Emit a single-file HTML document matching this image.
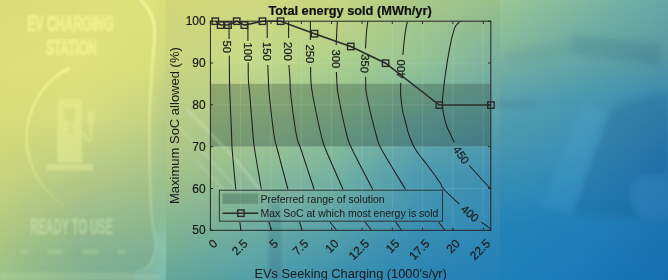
<!DOCTYPE html>
<html><head><meta charset="utf-8"><style>
html,body{margin:0;padding:0;width:668px;height:280px;overflow:hidden;background:#8cbf96}
svg{display:block}
text{font-family:"Liberation Sans",sans-serif}
</style></head><body>
<svg width="668" height="280" viewBox="0 0 668 280">
<defs><linearGradient id="h1" gradientUnits="userSpaceOnUse" x1="0" y1="0" x2="166" y2="0"><stop offset="0.0000" stop-color="#dcdc7c"/><stop offset="0.4819" stop-color="#dde07c"/><stop offset="0.9036" stop-color="#dde47c"/><stop offset="1.0000" stop-color="#d8e07c"/></linearGradient><linearGradient id="h2" gradientUnits="userSpaceOnUse" x1="0" y1="0" x2="166" y2="0"><stop offset="0.0000" stop-color="#dce07a"/><stop offset="0.4819" stop-color="#dde27a"/><stop offset="0.9036" stop-color="#d6de7c"/><stop offset="1.0000" stop-color="#cad680"/></linearGradient><linearGradient id="h3" gradientUnits="userSpaceOnUse" x1="0" y1="0" x2="166" y2="0"><stop offset="0.0000" stop-color="#d6dc78"/><stop offset="0.4819" stop-color="#d4dc80"/><stop offset="0.9036" stop-color="#c4d282"/><stop offset="1.0000" stop-color="#b6ca86"/></linearGradient><linearGradient id="h4" gradientUnits="userSpaceOnUse" x1="0" y1="0" x2="166" y2="0"><stop offset="0.0000" stop-color="#c8d47c"/><stop offset="0.4819" stop-color="#b4c886"/><stop offset="0.9036" stop-color="#a4c28a"/><stop offset="1.0000" stop-color="#9cc08e"/></linearGradient><linearGradient id="h5" gradientUnits="userSpaceOnUse" x1="0" y1="0" x2="166" y2="0"><stop offset="0.0000" stop-color="#a8c484"/><stop offset="0.4819" stop-color="#8ab48e"/><stop offset="0.9036" stop-color="#80b094"/><stop offset="1.0000" stop-color="#80bca4"/></linearGradient><linearGradient id="h6" gradientUnits="userSpaceOnUse" x1="0" y1="0" x2="166" y2="0"><stop offset="0.0000" stop-color="#9cc088"/><stop offset="0.4819" stop-color="#80ae90"/><stop offset="0.9036" stop-color="#78aa98"/><stop offset="1.0000" stop-color="#72b4a8"/></linearGradient><linearGradient id="v8" gradientUnits="userSpaceOnUse" x1="0" y1="0" x2="0" y2="70"><stop offset="0" stop-color="#000"/><stop offset="1" stop-color="#fff"/></linearGradient><mask id="m7" maskUnits="userSpaceOnUse" x="0" y="0" width="166" height="70"><rect x="0" y="0" width="166" height="70" fill="url(#v8)"/></mask><linearGradient id="v10" gradientUnits="userSpaceOnUse" x1="0" y1="70" x2="0" y2="120"><stop offset="0" stop-color="#000"/><stop offset="1" stop-color="#fff"/></linearGradient><mask id="m9" maskUnits="userSpaceOnUse" x="0" y="70" width="166" height="50"><rect x="0" y="70" width="166" height="50" fill="url(#v10)"/></mask><linearGradient id="v12" gradientUnits="userSpaceOnUse" x1="0" y1="120" x2="0" y2="180"><stop offset="0" stop-color="#000"/><stop offset="1" stop-color="#fff"/></linearGradient><mask id="m11" maskUnits="userSpaceOnUse" x="0" y="120" width="166" height="60"><rect x="0" y="120" width="166" height="60" fill="url(#v12)"/></mask><linearGradient id="v14" gradientUnits="userSpaceOnUse" x1="0" y1="180" x2="0" y2="250"><stop offset="0" stop-color="#000"/><stop offset="1" stop-color="#fff"/></linearGradient><mask id="m13" maskUnits="userSpaceOnUse" x="0" y="180" width="166" height="70"><rect x="0" y="180" width="166" height="70" fill="url(#v14)"/></mask><linearGradient id="v16" gradientUnits="userSpaceOnUse" x1="0" y1="250" x2="0" y2="280"><stop offset="0" stop-color="#000"/><stop offset="1" stop-color="#fff"/></linearGradient><mask id="m15" maskUnits="userSpaceOnUse" x="0" y="250" width="166" height="30"><rect x="0" y="250" width="166" height="30" fill="url(#v16)"/></mask></defs><rect x="0" y="0" width="166" height="70" fill="url(#h1)"/><rect x="0" y="0" width="166" height="70" fill="url(#h2)" mask="url(#m7)"/><rect x="0" y="70" width="166" height="50" fill="url(#h2)"/><rect x="0" y="70" width="166" height="50" fill="url(#h3)" mask="url(#m9)"/><rect x="0" y="120" width="166" height="60" fill="url(#h3)"/><rect x="0" y="120" width="166" height="60" fill="url(#h4)" mask="url(#m11)"/><rect x="0" y="180" width="166" height="70" fill="url(#h4)"/><rect x="0" y="180" width="166" height="70" fill="url(#h5)" mask="url(#m13)"/><rect x="0" y="250" width="166" height="30" fill="url(#h5)"/><rect x="0" y="250" width="166" height="30" fill="url(#h6)" mask="url(#m15)"/>
<defs><linearGradient id="h17" gradientUnits="userSpaceOnUse" x1="166" y1="0" x2="500" y2="0"><stop offset="0.0000" stop-color="#d2d878"/><stop offset="0.2515" stop-color="#d0d880"/><stop offset="0.5030" stop-color="#cad680"/><stop offset="0.7515" stop-color="#aac888"/><stop offset="1.0000" stop-color="#98c08c"/></linearGradient><linearGradient id="h18" gradientUnits="userSpaceOnUse" x1="166" y1="0" x2="500" y2="0"><stop offset="0.0000" stop-color="#ccd480"/><stop offset="0.2515" stop-color="#c6da88"/><stop offset="0.5030" stop-color="#aed08c"/><stop offset="0.7515" stop-color="#96c494"/><stop offset="1.0000" stop-color="#7ab0a0"/></linearGradient><linearGradient id="h19" gradientUnits="userSpaceOnUse" x1="166" y1="0" x2="500" y2="0"><stop offset="0.0000" stop-color="#a8c488"/><stop offset="0.2515" stop-color="#92bc94"/><stop offset="0.5030" stop-color="#78b4a0"/><stop offset="0.7515" stop-color="#4e9cb0"/><stop offset="1.0000" stop-color="#4090b2"/></linearGradient><linearGradient id="h20" gradientUnits="userSpaceOnUse" x1="166" y1="0" x2="500" y2="0"><stop offset="0.0000" stop-color="#64a698"/><stop offset="0.2515" stop-color="#50a0aa"/><stop offset="0.5030" stop-color="#3a90b0"/><stop offset="0.7515" stop-color="#2a84b4"/><stop offset="1.0000" stop-color="#2080b8"/></linearGradient><linearGradient id="v22" gradientUnits="userSpaceOnUse" x1="0" y1="0" x2="0" y2="60"><stop offset="0" stop-color="#000"/><stop offset="1" stop-color="#fff"/></linearGradient><mask id="m21" maskUnits="userSpaceOnUse" x="166" y="0" width="334" height="60"><rect x="166" y="0" width="334" height="60" fill="url(#v22)"/></mask><linearGradient id="v24" gradientUnits="userSpaceOnUse" x1="0" y1="60" x2="0" y2="170"><stop offset="0" stop-color="#000"/><stop offset="1" stop-color="#fff"/></linearGradient><mask id="m23" maskUnits="userSpaceOnUse" x="166" y="60" width="334" height="110"><rect x="166" y="60" width="334" height="110" fill="url(#v24)"/></mask><linearGradient id="v26" gradientUnits="userSpaceOnUse" x1="0" y1="170" x2="0" y2="280"><stop offset="0" stop-color="#000"/><stop offset="1" stop-color="#fff"/></linearGradient><mask id="m25" maskUnits="userSpaceOnUse" x="166" y="170" width="334" height="110"><rect x="166" y="170" width="334" height="110" fill="url(#v26)"/></mask></defs><rect x="166" y="0" width="334" height="60" fill="url(#h17)"/><rect x="166" y="0" width="334" height="60" fill="url(#h18)" mask="url(#m21)"/><rect x="166" y="60" width="334" height="110" fill="url(#h18)"/><rect x="166" y="60" width="334" height="110" fill="url(#h19)" mask="url(#m23)"/><rect x="166" y="170" width="334" height="110" fill="url(#h19)"/><rect x="166" y="170" width="334" height="110" fill="url(#h20)" mask="url(#m25)"/>
<defs><linearGradient id="h27" gradientUnits="userSpaceOnUse" x1="500" y1="0" x2="668" y2="0"><stop offset="0.0000" stop-color="#9cc794"/><stop offset="0.5000" stop-color="#80b8a0"/><stop offset="1.0000" stop-color="#66a8a8"/></linearGradient><linearGradient id="h28" gradientUnits="userSpaceOnUse" x1="500" y1="0" x2="668" y2="0"><stop offset="0.0000" stop-color="#84b89c"/><stop offset="0.5000" stop-color="#6aa8a4"/><stop offset="1.0000" stop-color="#5a9aa0"/></linearGradient><linearGradient id="h29" gradientUnits="userSpaceOnUse" x1="500" y1="0" x2="668" y2="0"><stop offset="0.0000" stop-color="#5aa0ac"/><stop offset="0.5000" stop-color="#4898b0"/><stop offset="1.0000" stop-color="#3a88b0"/></linearGradient><linearGradient id="h30" gradientUnits="userSpaceOnUse" x1="500" y1="0" x2="668" y2="0"><stop offset="0.0000" stop-color="#4696ae"/><stop offset="0.5000" stop-color="#3a90b8"/><stop offset="1.0000" stop-color="#2a7ab0"/></linearGradient><linearGradient id="h31" gradientUnits="userSpaceOnUse" x1="500" y1="0" x2="668" y2="0"><stop offset="0.0000" stop-color="#2484b8"/><stop offset="0.5000" stop-color="#2080b8"/><stop offset="1.0000" stop-color="#1e74b0"/></linearGradient><linearGradient id="h32" gradientUnits="userSpaceOnUse" x1="500" y1="0" x2="668" y2="0"><stop offset="0.0000" stop-color="#1f80b8"/><stop offset="0.5000" stop-color="#1a78b8"/><stop offset="1.0000" stop-color="#1570b0"/></linearGradient><linearGradient id="v34" gradientUnits="userSpaceOnUse" x1="0" y1="0" x2="0" y2="50"><stop offset="0" stop-color="#000"/><stop offset="1" stop-color="#fff"/></linearGradient><mask id="m33" maskUnits="userSpaceOnUse" x="500" y="0" width="168" height="50"><rect x="500" y="0" width="168" height="50" fill="url(#v34)"/></mask><linearGradient id="v36" gradientUnits="userSpaceOnUse" x1="0" y1="50" x2="0" y2="100"><stop offset="0" stop-color="#000"/><stop offset="1" stop-color="#fff"/></linearGradient><mask id="m35" maskUnits="userSpaceOnUse" x="500" y="50" width="168" height="50"><rect x="500" y="50" width="168" height="50" fill="url(#v36)"/></mask><linearGradient id="v38" gradientUnits="userSpaceOnUse" x1="0" y1="100" x2="0" y2="150"><stop offset="0" stop-color="#000"/><stop offset="1" stop-color="#fff"/></linearGradient><mask id="m37" maskUnits="userSpaceOnUse" x="500" y="100" width="168" height="50"><rect x="500" y="100" width="168" height="50" fill="url(#v38)"/></mask><linearGradient id="v40" gradientUnits="userSpaceOnUse" x1="0" y1="150" x2="0" y2="220"><stop offset="0" stop-color="#000"/><stop offset="1" stop-color="#fff"/></linearGradient><mask id="m39" maskUnits="userSpaceOnUse" x="500" y="150" width="168" height="70"><rect x="500" y="150" width="168" height="70" fill="url(#v40)"/></mask><linearGradient id="v42" gradientUnits="userSpaceOnUse" x1="0" y1="220" x2="0" y2="280"><stop offset="0" stop-color="#000"/><stop offset="1" stop-color="#fff"/></linearGradient><mask id="m41" maskUnits="userSpaceOnUse" x="500" y="220" width="168" height="60"><rect x="500" y="220" width="168" height="60" fill="url(#v42)"/></mask></defs><rect x="500" y="0" width="168" height="50" fill="url(#h27)"/><rect x="500" y="0" width="168" height="50" fill="url(#h28)" mask="url(#m33)"/><rect x="500" y="50" width="168" height="50" fill="url(#h28)"/><rect x="500" y="50" width="168" height="50" fill="url(#h29)" mask="url(#m35)"/><rect x="500" y="100" width="168" height="50" fill="url(#h29)"/><rect x="500" y="100" width="168" height="50" fill="url(#h30)" mask="url(#m37)"/><rect x="500" y="150" width="168" height="70" fill="url(#h30)"/><rect x="500" y="150" width="168" height="70" fill="url(#h31)" mask="url(#m39)"/><rect x="500" y="220" width="168" height="60" fill="url(#h31)"/><rect x="500" y="220" width="168" height="60" fill="url(#h32)" mask="url(#m41)"/>
<defs><filter id="blur1" x="-10%" y="-10%" width="120%" height="120%"><feGaussianBlur stdDeviation="0.9"/></filter><filter id="blur3" x="-20%" y="-20%" width="140%" height="140%"><feGaussianBlur stdDeviation="3"/></filter></defs>
<g filter="url(#blur1)">
<g opacity="0.62" fill="#f8fc98" stroke="#f8fc98" stroke-width="1.4" font-family="Liberation Sans" font-weight="bold"><text font-size="22" transform="translate(27.3,31) scale(0.555,1)">EV CHARGING</text><text font-size="21.5" transform="translate(46,55) scale(0.555,1)">STATION</text></g>
<g opacity="0.32" fill="#e8f8c0" stroke="#e8f8c0" stroke-width="0.9" font-family="Liberation Sans" font-weight="bold"><text font-size="21.5" transform="translate(30.2,233.5) scale(0.515,1)">READY TO USE</text></g>
<defs><linearGradient id="arcg" gradientUnits="userSpaceOnUse" x1="0" y1="69" x2="0" y2="206"><stop offset="0" stop-color="#fbffa0" stop-opacity="0.85"/><stop offset="0.6" stop-color="#fbffa0" stop-opacity="0.5"/><stop offset="1" stop-color="#f0ffb0" stop-opacity="0.1"/></linearGradient></defs><path d="M70,68.5 C50,76 32,98 27,128 C24,156 34,184 63,205.5" fill="none" stroke="url(#arcg)" stroke-width="2"/>
<path d="M57,162.5 V104 Q57,99 62,99 H77 Q82,99 82,104 V162.5 Z M64,108 V120.5 H75 V108 Z" fill="#eef49a" fill-opacity="0.45" fill-rule="evenodd"/>
<path d="M71,121 L67,133 L71,133 L68,144 L74,129 L70.5,129 L73,121 Z" fill="#c8d070" fill-opacity="0.35"/>
<path d="M82,132 Q86,134 86,138 Q86,141 89,141 Q91,141 91,137 V123" fill="none" stroke="#eef49a" stroke-opacity="0.4" stroke-width="2"/>
<path d="M87.5,112 H94 V122 Q94,124 91,124 Q87.5,124 87.5,122 Z M88.5,107 V112 M93,107 V112" fill="#eef49a" fill-opacity="0.35" stroke="#eef49a" stroke-opacity="0.35" stroke-width="1.2"/>
<rect x="46.4" y="164" width="46.6" height="6.4" fill="#eef49a" fill-opacity="0.42"/>
<defs><linearGradient id="outg" gradientUnits="userSpaceOnUse" x1="0" y1="0" x2="0" y2="272"><stop offset="0" stop-color="#fcffb0" stop-opacity="1"/><stop offset="0.35" stop-color="#f4fca0" stop-opacity="0.65"/><stop offset="0.7" stop-color="#e0f8b0" stop-opacity="0.4"/><stop offset="1" stop-color="#c0f0c0" stop-opacity="0.25"/></linearGradient></defs>
<path d="M140.00,-1.00C141.50,0.83 146.73,6.17 149.00,10.00C151.27,13.83 152.67,17.83 153.60,22.00C154.53,26.17 154.60,30.33 154.60,35.00C154.60,39.67 154.12,43.33 153.60,50.00C153.08,56.67 152.17,64.17 151.50,75.00C150.83,85.83 149.88,100.00 149.60,115.00C149.32,130.00 149.48,148.33 149.80,165.00C150.12,181.67 150.67,203.33 151.50,215.00C152.33,226.67 154.08,229.83 154.80,235.00C155.52,240.17 155.93,242.50 155.80,246.00C155.67,249.50 155.30,252.67 154.00,256.00C152.70,259.33 151.17,263.28 148.00,266.00C144.83,268.72 137.17,271.25 135.00,272.30" fill="none" stroke="url(#outg)" stroke-width="2"/>
<rect x="0" y="274" width="160" height="6" fill="#d8f0b0" fill-opacity="0.16"/>
<path d="M132,272.8 H0" fill="none" stroke="#d0f0c0" stroke-opacity="0.25" stroke-width="1.2"/>
<rect x="20" y="249.5" width="8" height="4.5" fill="#d8f0b0" fill-opacity="0.22"/>
<rect x="47.5" y="249.5" width="15.5" height="4.5" fill="#d8f0b0" fill-opacity="0.22"/>
<rect x="82" y="249.5" width="16.5" height="4.5" fill="#d8f0b0" fill-opacity="0.22"/>
<rect x="118" y="249.5" width="7" height="4.5" fill="#d8f0b0" fill-opacity="0.22"/>
</g>
<path d="M155,232 C157,246 155,258 148,266 C144,270 140,271.5 134,272.5 L134,280 L166,280 L166,232 Z" fill="#a0e0d0" fill-opacity="0.2" filter="url(#blur1)"/>
<g filter="url(#blur3)">
<defs><linearGradient id="wedg" gradientUnits="userSpaceOnUse" x1="0" y1="36" x2="0" y2="80"><stop offset="0" stop-color="#204860" stop-opacity="0.16"/><stop offset="1" stop-color="#204860" stop-opacity="0"/></linearGradient></defs>
<path d="M572,34 L661,44 L661,65 L572,54 Z" fill="#204860" fill-opacity="0.13"/>
<path d="M505,50 L572,40 L572,56 L505,66 Z" fill="#204860" fill-opacity="0.06"/>
<path d="M491,104.5 L535,104" stroke="#203040" stroke-opacity="0.25" stroke-width="1.5" fill="none"/>
<path d="M608,111 Q630,97 668,91 V219 L571,214 Z" fill="#0c3060" fill-opacity="0.13"/>
<path d="M583,104 L608,110 L571,213 L541,206 Z" fill="#80d0ff" fill-opacity="0.07"/>
<path d="M640,178 Q632,180 632,195 Q632,216 650,218 L668,218 V176 Z" fill="#40a0e0" fill-opacity="0.25"/>
</g>
<defs><linearGradient id="strg" x1="0" y1="0" x2="0" y2="1"><stop offset="0" stop-color="#204060" stop-opacity="0"/><stop offset="0.25" stop-color="#204060" stop-opacity="0.14"/><stop offset="1" stop-color="#204060" stop-opacity="0.16"/></linearGradient></defs><rect x="268.5" y="190" width="13" height="90" fill="url(#strg)" filter="url(#blur1)"/>
<defs><filter id="cb" x="0" y="0" width="668" height="280" filterUnits="userSpaceOnUse"><feGaussianBlur stdDeviation="0.4"/></filter></defs><g filter="url(#cb)">
<defs><linearGradient id="bandg" gradientUnits="userSpaceOnUse" x1="0" y1="83.9" x2="0" y2="146.7"><stop offset="0" stop-color="#2c4a38" stop-opacity="0.31"/><stop offset="1" stop-color="#284842" stop-opacity="0.36"/></linearGradient></defs>
<rect x="210.4" y="83.9" width="280.4" height="62.7" fill="url(#bandg)"/>
<g filter="url(#blur1)" stroke="#f0ffe0" fill="none"><path d="M186,108 L236,160 L262,192" stroke-opacity="0.26" stroke-width="2.5"/><path d="M180,128 L222,172 L240,192" stroke-opacity="0.18" stroke-width="2"/><path d="M196,160 L224,190" stroke-opacity="0.10" stroke-width="4"/></g>
<path d="M240.6,21.2V230.3 M271.0,21.2V230.3 M301.3,21.2V230.3 M331.6,21.2V230.3 M362.0,21.2V230.3 M392.3,21.2V230.3 M422.6,21.2V230.3 M452.9,21.2V230.3 M483.3,21.2V230.3 M210.4,188.5H490.8 M210.4,146.7H490.8 M210.4,104.8H490.8 M210.4,63.0H490.8" stroke="#ffffff" stroke-opacity="0.10" stroke-width="1" fill="none"/>
<g fill="none" stroke="#1e1e1e" stroke-width="1.05">
<path d="M229.00,21.50L229.10,39.00"/>
<path d="M229.30,55.50C229.33,59.58 229.40,73.42 229.50,80.00C229.60,86.58 229.55,85.83 229.90,95.00C230.25,104.17 231.22,125.83 231.60,135.00C231.98,144.17 231.50,140.92 232.20,150.00C232.90,159.08 235.20,182.92 235.80,189.50"/>
<path d="M239.90,222.00L240.80,230.00"/>
<path d="M247.90,21.50L247.90,41.00"/>
<path d="M248.20,62.50C248.23,65.42 248.13,74.58 248.40,80.00C248.67,85.42 249.03,85.83 249.80,95.00C250.57,104.17 252.18,125.83 253.00,135.00C253.82,144.17 253.30,140.92 254.70,150.00C256.10,159.08 260.28,182.92 261.40,189.50"/>
<path d="M269.00,222.00L271.30,230.00"/>
<path d="M267.20,21.50L267.20,38.00"/>
<path d="M267.80,65.00C267.90,67.50 268.15,75.00 268.40,80.00C268.65,85.00 268.37,85.83 269.30,95.00C270.23,104.17 272.63,125.83 274.00,135.00C275.37,144.17 275.17,140.92 277.50,150.00C279.83,159.08 286.25,182.92 288.00,189.50"/>
<path d="M299.50,222.00L302.20,230.00"/>
<path d="M288.60,21.50L288.60,38.00"/>
<path d="M288.90,65.00C289.08,67.50 289.68,75.00 290.00,80.00C290.32,85.00 289.73,85.83 290.80,95.00C291.87,104.17 294.67,125.83 296.40,135.00C298.13,144.17 298.23,140.92 301.20,150.00C304.17,159.08 312.03,182.92 314.20,189.50"/>
<path d="M330.00,222.00L336.30,230.00"/>
<path d="M310.40,21.50L310.40,40.00"/>
<path d="M310.60,67.00C310.65,69.17 310.55,75.33 310.90,80.00C311.25,84.67 311.00,85.83 312.70,95.00C314.40,104.17 318.90,125.83 321.10,135.00C323.30,144.17 322.23,140.92 325.90,150.00C329.57,159.08 340.23,182.92 343.10,189.50"/>
<path d="M365.00,222.00L371.30,230.00"/>
<path d="M337.30,21.50C337.18,23.75 336.78,31.08 336.60,35.00C336.42,38.92 336.27,43.33 336.20,45.00"/>
<path d="M336.40,72.00C336.47,73.33 336.50,76.17 336.80,80.00C337.10,83.83 336.53,85.83 338.20,95.00C339.87,104.17 344.43,125.83 346.80,135.00C349.17,144.17 348.07,140.92 352.40,150.00C356.73,159.08 369.40,182.92 372.80,189.50"/>
<path d="M395.70,222.00L401.50,230.00"/>
<path d="M367.80,21.50C367.58,23.25 366.88,27.50 366.50,32.00C366.12,36.50 365.67,45.75 365.50,48.50"/>
<path d="M365.50,76.70C365.53,77.25 365.50,76.95 365.70,80.00C365.90,83.05 364.95,85.83 366.70,95.00C368.45,104.17 373.67,125.83 376.20,135.00C378.73,144.17 377.00,140.92 381.90,150.00C386.80,159.08 401.65,182.92 405.60,189.50"/>
<path d="M438.50,222.00L444.70,230.00"/>
<path d="M407.30,21.50C406.97,23.25 405.88,28.08 405.30,32.00C404.72,35.92 404.20,41.17 403.80,45.00C403.40,48.83 403.05,53.33 402.90,55.00"/>
<path d="M400.80,82.80C400.78,84.83 400.42,90.47 400.70,95.00C400.98,99.53 401.78,105.83 402.50,110.00C403.22,114.17 403.92,115.83 405.00,120.00C406.08,124.17 407.20,130.00 409.00,135.00C410.80,140.00 412.63,144.83 415.80,150.00C418.97,155.17 423.97,160.58 428.00,166.00C432.03,171.42 437.40,178.67 440.00,182.50C442.60,186.33 440.40,185.40 443.60,189.00C446.80,192.60 456.60,201.58 459.20,204.10"/>
<path d="M481.40,222.10L491.00,229.20"/>
<path d="M459.90,21.50C459.33,22.08 457.45,23.72 456.50,25.00C455.55,26.28 455.28,25.65 454.20,29.20C453.12,32.75 451.42,39.17 450.00,46.30C448.58,53.43 446.80,64.72 445.70,72.00C444.60,79.28 443.97,84.50 443.40,90.00C442.83,95.50 442.20,100.70 442.30,105.00C442.40,109.30 443.25,112.22 444.00,115.80C444.75,119.38 445.65,123.30 446.80,126.50C447.95,129.70 449.67,132.32 450.90,135.00C452.13,137.68 453.65,141.33 454.20,142.60"/>
<path d="M469.20,165.30C471.38,167.75 478.70,176.08 482.30,180.00C485.90,183.92 489.38,187.33 490.80,188.80"/>
</g>
<text font-size="11.3" fill="#1a1a1a" stroke="#1a1a1a" stroke-width="0.2" text-anchor="middle" dominant-baseline="central" transform="translate(227.2,46.8) rotate(90)">50</text>
<text font-size="11.3" fill="#1a1a1a" stroke="#1a1a1a" stroke-width="0.2" text-anchor="middle" dominant-baseline="central" transform="translate(247.6,51.8) rotate(90)">100</text>
<text font-size="11.3" fill="#1a1a1a" stroke="#1a1a1a" stroke-width="0.2" text-anchor="middle" dominant-baseline="central" transform="translate(267.3,51.4) rotate(90)">150</text>
<text font-size="11.3" fill="#1a1a1a" stroke="#1a1a1a" stroke-width="0.2" text-anchor="middle" dominant-baseline="central" transform="translate(288.4,51.4) rotate(90)">200</text>
<text font-size="11.3" fill="#1a1a1a" stroke="#1a1a1a" stroke-width="0.2" text-anchor="middle" dominant-baseline="central" transform="translate(310.3,53.8) rotate(90)">250</text>
<text font-size="11.3" fill="#1a1a1a" stroke="#1a1a1a" stroke-width="0.2" text-anchor="middle" dominant-baseline="central" transform="translate(336.0,58.8) rotate(90)">300</text>
<text font-size="11.3" fill="#1a1a1a" stroke="#1a1a1a" stroke-width="0.2" text-anchor="middle" dominant-baseline="central" transform="translate(365.0,63.6) rotate(93)">350</text>
<text font-size="11.3" fill="#1a1a1a" stroke="#1a1a1a" stroke-width="0.2" text-anchor="middle" dominant-baseline="central" transform="translate(401.2,69.0) rotate(-90)">400</text>
<text font-size="11.3" fill="#1a1a1a" stroke="#1a1a1a" stroke-width="0.2" text-anchor="middle" dominant-baseline="central" transform="translate(461.3,155.0) rotate(55)">450</text>
<text font-size="11.3" fill="#1a1a1a" stroke="#1a1a1a" stroke-width="0.2" text-anchor="middle" dominant-baseline="central" transform="translate(470.0,213.5) rotate(41)">400</text>
<path d="M215.3,21.2 L220.6,25.1 L228.0,25.1 L236.7,21.2 L244.3,25.1 L262.5,21.2 L280.6,21.2 L314.5,33.7 L350.8,46.5 L385.6,63.2 L439.3,105.1 L490.9,105.1" fill="none" stroke="#2a2a2a" stroke-width="1.5"/>
<rect x="212.1" y="18.0" width="6.4" height="6.4" fill="none" stroke="#2a2a2a" stroke-width="1.4"/>
<rect x="217.4" y="21.9" width="6.4" height="6.4" fill="none" stroke="#2a2a2a" stroke-width="1.4"/>
<rect x="224.8" y="21.9" width="6.4" height="6.4" fill="none" stroke="#2a2a2a" stroke-width="1.4"/>
<rect x="233.5" y="18.0" width="6.4" height="6.4" fill="none" stroke="#2a2a2a" stroke-width="1.4"/>
<rect x="241.1" y="21.9" width="6.4" height="6.4" fill="none" stroke="#2a2a2a" stroke-width="1.4"/>
<rect x="259.3" y="18.0" width="6.4" height="6.4" fill="none" stroke="#2a2a2a" stroke-width="1.4"/>
<rect x="277.4" y="18.0" width="6.4" height="6.4" fill="none" stroke="#2a2a2a" stroke-width="1.4"/>
<rect x="311.3" y="30.5" width="6.4" height="6.4" fill="none" stroke="#2a2a2a" stroke-width="1.4"/>
<rect x="347.6" y="43.3" width="6.4" height="6.4" fill="none" stroke="#2a2a2a" stroke-width="1.4"/>
<rect x="382.4" y="60.0" width="6.4" height="6.4" fill="none" stroke="#2a2a2a" stroke-width="1.4"/>
<rect x="436.1" y="101.9" width="6.4" height="6.4" fill="none" stroke="#2a2a2a" stroke-width="1.4"/>
<rect x="487.7" y="101.9" width="6.4" height="6.4" fill="none" stroke="#2a2a2a" stroke-width="1.4"/>
<rect x="210.4" y="21.2" width="280.4" height="209.1" fill="none" stroke="#262626" stroke-width="1"/>
<path d="M210.3,230.3v-2.8 M210.3,21.2v2.8 M240.6,230.3v-2.8 M240.6,21.2v2.8 M271.0,230.3v-2.8 M271.0,21.2v2.8 M301.3,230.3v-2.8 M301.3,21.2v2.8 M331.6,230.3v-2.8 M331.6,21.2v2.8 M362.0,230.3v-2.8 M362.0,21.2v2.8 M392.3,230.3v-2.8 M392.3,21.2v2.8 M422.6,230.3v-2.8 M422.6,21.2v2.8 M452.9,230.3v-2.8 M452.9,21.2v2.8 M483.3,230.3v-2.8 M483.3,21.2v2.8 M210.4,230.3h2.8 M490.8,230.3h-2.8 M210.4,188.5h2.8 M490.8,188.5h-2.8 M210.4,146.7h2.8 M490.8,146.7h-2.8 M210.4,104.8h2.8 M490.8,104.8h-2.8 M210.4,63.0h2.8 M490.8,63.0h-2.8 M210.4,21.2h2.8 M490.8,21.2h-2.8" stroke="#262626" stroke-width="1" fill="none"/>
<text font-size="11.9" fill="#1a1a1a" stroke="#1a1a1a" stroke-width="0.2" x="205.6" y="230.3" text-anchor="end" dominant-baseline="central">50</text>
<text font-size="11.9" fill="#1a1a1a" stroke="#1a1a1a" stroke-width="0.2" x="205.6" y="188.5" text-anchor="end" dominant-baseline="central">60</text>
<text font-size="11.9" fill="#1a1a1a" stroke="#1a1a1a" stroke-width="0.2" x="205.6" y="146.7" text-anchor="end" dominant-baseline="central">70</text>
<text font-size="11.9" fill="#1a1a1a" stroke="#1a1a1a" stroke-width="0.2" x="205.6" y="104.8" text-anchor="end" dominant-baseline="central">80</text>
<text font-size="11.9" fill="#1a1a1a" stroke="#1a1a1a" stroke-width="0.2" x="205.6" y="63.0" text-anchor="end" dominant-baseline="central">90</text>
<text font-size="11.9" fill="#1a1a1a" stroke="#1a1a1a" stroke-width="0.2" x="205.6" y="21.2" text-anchor="end" dominant-baseline="central">100</text>
<text font-size="11.9" fill="#1a1a1a" stroke="#1a1a1a" stroke-width="0.2" text-anchor="end" dominant-baseline="central" transform="translate(215.3,241.5) rotate(-45)">0</text>
<text font-size="11.9" fill="#1a1a1a" stroke="#1a1a1a" stroke-width="0.2" text-anchor="end" dominant-baseline="central" transform="translate(245.6,241.5) rotate(-45)">2.5</text>
<text font-size="11.9" fill="#1a1a1a" stroke="#1a1a1a" stroke-width="0.2" text-anchor="end" dominant-baseline="central" transform="translate(276.0,241.5) rotate(-45)">5</text>
<text font-size="11.9" fill="#1a1a1a" stroke="#1a1a1a" stroke-width="0.2" text-anchor="end" dominant-baseline="central" transform="translate(306.3,241.5) rotate(-45)">7.5</text>
<text font-size="11.9" fill="#1a1a1a" stroke="#1a1a1a" stroke-width="0.2" text-anchor="end" dominant-baseline="central" transform="translate(336.6,241.5) rotate(-45)">10</text>
<text font-size="11.9" fill="#1a1a1a" stroke="#1a1a1a" stroke-width="0.2" text-anchor="end" dominant-baseline="central" transform="translate(367.0,241.5) rotate(-45)">12.5</text>
<text font-size="11.9" fill="#1a1a1a" stroke="#1a1a1a" stroke-width="0.2" text-anchor="end" dominant-baseline="central" transform="translate(397.3,241.5) rotate(-45)">15</text>
<text font-size="11.9" fill="#1a1a1a" stroke="#1a1a1a" stroke-width="0.2" text-anchor="end" dominant-baseline="central" transform="translate(427.6,241.5) rotate(-45)">17.5</text>
<text font-size="11.9" fill="#1a1a1a" stroke="#1a1a1a" stroke-width="0.2" text-anchor="end" dominant-baseline="central" transform="translate(457.9,241.5) rotate(-45)">20</text>
<text font-size="11.9" fill="#1a1a1a" stroke="#1a1a1a" stroke-width="0.2" text-anchor="end" dominant-baseline="central" transform="translate(488.3,241.5) rotate(-45)">22.5</text>
<text font-size="12.8" fill="#1a1a1a" text-anchor="middle" x="350.7" y="278.1">EVs Seeking Charging (1000's/yr)</text>
<text font-size="13" fill="#1a1a1a" text-anchor="middle" transform="translate(179.0,125.6) rotate(-90)">Maximum SoC allowed (%)</text>
<text font-size="12.8" font-weight="bold" fill="#111" stroke="#111" stroke-width="0.2" text-anchor="middle" x="350.1" y="15.0">Total energy sold (MWh/yr)</text>
<rect x="219.3" y="190.2" width="223.2" height="31" fill="#ffffff" fill-opacity="0.0" stroke="#2a2a2a" stroke-width="0.9"/>
<rect x="222.6" y="193.5" width="35.6" height="10.3" fill="#2c4a38" fill-opacity="0.30"/>
<path d="M222.6,213.2H258.2" stroke="#2a2a2a" stroke-width="1.5"/>
<rect x="237.7" y="210.0" width="6.4" height="6.4" fill="none" stroke="#2a2a2a" stroke-width="1.4"/>
<text font-size="10.5" fill="#1a1a1a" x="260.4" y="203.0">Preferred range of solution</text>
<text font-size="10.5" fill="#1a1a1a" x="260.4" y="217.1">Max SoC at which most energy is sold</text>
</g>
</svg>
</body></html>
